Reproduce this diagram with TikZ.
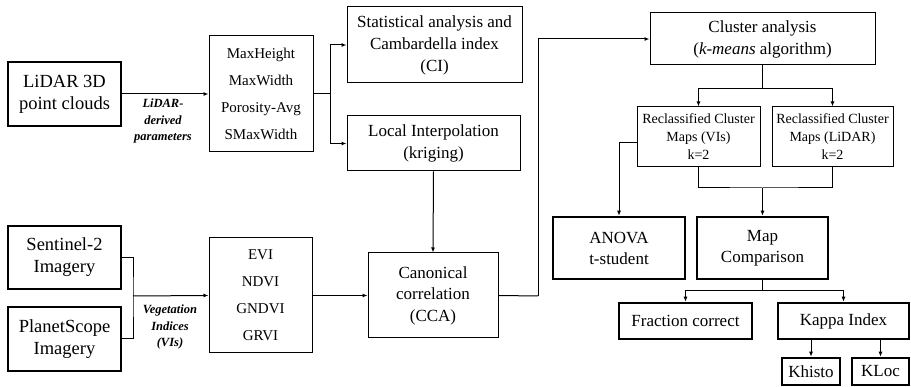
\documentclass[tikz,border=0pt]{standalone}
\usepackage{fontspec}
\setmainfont{Liberation Serif}
\usetikzlibrary{arrows.meta,calc}
\tikzset{
  box/.style={draw=black, line width=1pt, inner sep=1pt, align=center},
  tbox/.style={box, line width=2.6pt},
  arr/.style={-{Latex[length=5pt,width=4pt]}, line width=1pt},
  ln/.style={line width=1pt},
  lbl/.style={font=\fontsize{12.5}{16.5}\selectfont\bfseries\itshape, align=center},
}
\begin{document}
\begin{tikzpicture}[x=1pt,y=-1pt]
\useasboundingbox (0,0) rectangle (911,387);
% left column
\node[tbox, minimum width=113pt, minimum height=64pt, font=\fontsize{18.5}{22}\selectfont] (lidar) at (64.5,94) {LiDAR 3D\\point clouds};
\node[tbox, minimum width=113pt, minimum height=63pt, font=\fontsize{18.5}{22}\selectfont] (sent) at (64.5,257.5) {Sentinel-2\\Imagery};
\node[tbox, minimum width=113pt, minimum height=64pt, font=\fontsize{18.5}{22}\selectfont] (planet) at (64.5,339) {PlanetScope\\Imagery};
% parameter boxes
\node[box, minimum width=104pt, minimum height=116pt, font=\fontsize{15}{27}\selectfont] (param) at (261,94) {MaxHeight\\MaxWidth\\Porosity-Avg\\SMaxWidth};
\node[box, minimum width=103pt, minimum height=115pt, font=\fontsize{15}{27}\selectfont] (vis) at (260.5,295.5) {EVI\\NDVI\\GNDVI\\GRVI};
% middle
\node[box, minimum width=175pt, minimum height=76pt, font=\fontsize{17}{22}\selectfont] (stat) at (434.5,45) {Statistical analysis and\\Cambardella index\\(CI)};
\node[box, minimum width=173pt, minimum height=55pt, font=\fontsize{17}{22}\selectfont] (krig) at (433.5,143.5) {Local Interpolation\\(kriging)};
\node[box, minimum width=130pt, minimum height=85pt, font=\fontsize{17}{21.5}\selectfont] (cca) at (433,295.5) {Canonical\\correlation\\(CCA)};
% right
\node[box, minimum width=225pt, minimum height=52pt, font=\fontsize{17}{22}\selectfont] (cluster) at (762.5,39) {Cluster analysis\\(\textit{k-means} algorithm)};
\node[box, minimum width=123pt, minimum height=60pt, font=\fontsize{14}{18}\selectfont] (rvi) at (698.5,137) {Reclassified Cluster\\Maps (VIs)\\k=2};
\node[box, minimum width=121pt, minimum height=60pt, font=\fontsize{14}{18}\selectfont] (rli) at (832.5,137) {Reclassified Cluster\\Maps (LiDAR)\\k=2};
\node[tbox, minimum width=132pt, minimum height=62pt, font=\fontsize{17}{21}\selectfont] (anova) at (619,248) {ANOVA\\t-student};
\node[tbox, minimum width=131pt, minimum height=62pt, font=\fontsize{17}{21}\selectfont] (map) at (762.5,248) {Map\\Comparison};
\node[tbox, minimum width=133pt, minimum height=36pt, font=\fontsize{17}{21}\selectfont] (frac) at (685.5,321) {Fraction correct};
\node[tbox, minimum width=131pt, minimum height=36pt, font=\fontsize{17}{21}\selectfont] (kappa) at (843.5,321) {Kappa Index};
\node[tbox, minimum width=58pt, minimum height=27pt, font=\fontsize{17}{21}\selectfont] (khisto) at (811,371.5) {Khisto};
\node[tbox, minimum width=57pt, minimum height=27pt, font=\fontsize{17}{21}\selectfont] (kloc) at (880.5,371.5) {KLoc};
% labels
\node[lbl] (l1) at (163,121) {LiDAR-\\derived\\parameters};
\node[lbl] (l2) at (170,327) {Vegetation\\Indices\\(VIs)};
% connectors
\draw[arr] (lidar.east) -- (param.west);
\coordinate (j1) at (330,94);
\draw[ln] (param.east) -- (j1);
\draw[arr] (j1) |- (stat.west);
\draw[arr] (j1) |- (krig.west);
\draw[arr] (krig.south) -- (cca.north);
\coordinate (j3) at (133,296);
\draw[ln] (sent.east) -| (j3) |- (planet.east);
\draw[arr] (j3) -- (vis.west);
\draw[arr] (vis.east) -- (cca.west);
\coordinate (j4) at (538,296);
\draw[ln] (cca.east) -- (j4);
\draw[arr] (j4) |- (cluster.west);
\coordinate (j5) at (762.5,89);
\draw[ln] (cluster.south) -- (j5);
\draw[arr] (j5) -| (rvi.north);
\draw[arr] (j5) -| (rli.north);
\draw[arr] (rvi.west |- 0,143) -| (anova.north);
\coordinate (j6) at (762.5,188);
\draw[ln] (rvi.south) |- (j6) -| (rli.south);
\draw[arr] (j6) -- (map.north);
\coordinate (j7) at (762.5,291);
\draw[ln] (map.south) -- (j7);
\draw[arr] (j7) -| (frac.north);
\draw[arr] (j7) -| (kappa.north);
\draw[arr] (kappa.south -| khisto.north) -- (khisto.north);
\draw[arr] (kappa.south -| kloc.north) -- (kloc.north);
\end{tikzpicture}
\end{document}
